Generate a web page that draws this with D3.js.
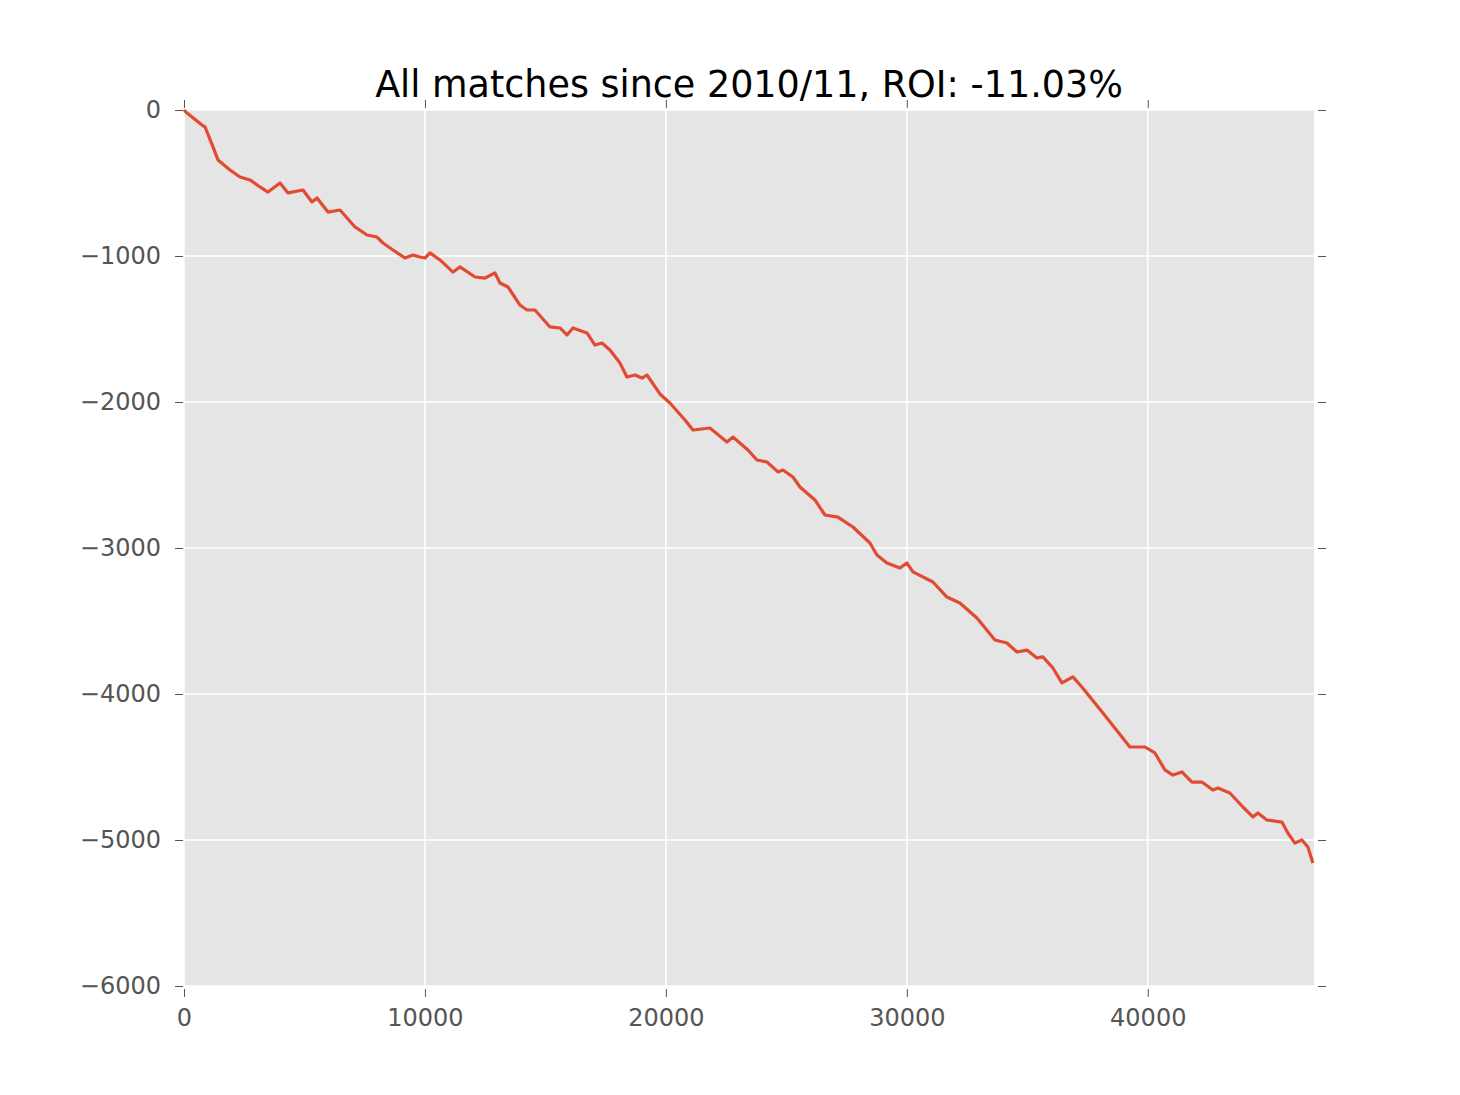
<!DOCTYPE html>
<html>
<head>
<meta charset="utf-8">
<script src="https://cdn.jsdelivr.net/npm/d3@7"></script>
<style>
  html, body { margin: 0; padding: 0; background: #ffffff; }
  svg { display: block; }
</style>
</head>
<body>
<svg id="chart" width="1460" height="1095"></svg>
<script>
// ---- data ----
const titleText = "All matches since 2010/11, ROI: -11.03%";
const xTicks = [0, 10000, 20000, 30000, 40000];
const yTicks = [0, -1000, -2000, -3000, -4000, -5000, -6000];
const xDomain = [0, 46900];
const yDomain = [-6000, 0];
const matchIndex = [0,125,747,872,1204,1411,1909,2324,2739,3154,3486,3984,4316,4939,5312,5520,5976,6474,7097,7595,8010,8259,8674,9172,9504,9794,10002,10209,10624,11164,11454,12077,12492,12907,13114,13446,13944,14235,14567,15189,15604,15895,16144,16725,17057,17347,17679,18094,18385,18717,19007,19215,19754,20169,20792,21124,21829,22535,22784,23406,23780,24195,24651,24859,25274,25564,26187,26602,27141,27764,28469,28760,29175,29714,30005,30254,31084,31665,32204,32910,33657,34155,34570,34985,35400,35649,36064,36437,36894,37267,38139,39259,39882,40297,40712,41044,41417,41832,42247,42704,42911,43409,43949,44364,44571,44945,45567,45816,46107,46397,46646,46854];
const profit = [0,-21,-103,-116,-253,-342,-411,-459,-479,-527,-562,-500,-568,-548,-630,-603,-699,-685,-801,-856,-870,-911,-959,-1014,-993,-1007,-1014,-979,-1027,-1110,-1075,-1144,-1151,-1116,-1185,-1212,-1336,-1370,-1370,-1486,-1493,-1541,-1493,-1527,-1610,-1596,-1644,-1733,-1829,-1815,-1836,-1815,-1945,-2007,-2123,-2192,-2178,-2274,-2240,-2329,-2397,-2411,-2479,-2466,-2514,-2582,-2671,-2774,-2788,-2856,-2966,-3048,-3103,-3137,-3103,-3164,-3233,-3336,-3377,-3479,-3630,-3651,-3712,-3699,-3753,-3746,-3822,-3924,-3883,-3952,-4130,-4363,-4363,-4404,-4520,-4555,-4534,-4603,-4603,-4658,-4644,-4678,-4774,-4842,-4815,-4863,-4877,-4952,-5021,-5000,-5048,-5158];

// ---- layout ----
const L = 184, R = 1314, T = 110, B = 986;
const svg = d3.select("#chart");
const font = "'DejaVu Sans', sans-serif";

const x = d3.scaleLinear().domain(xDomain).range([L, R]);
const y = d3.scaleLinear().domain(yDomain).range([B, T]);

// background
svg.append("rect").attr("x", L).attr("y", T).attr("width", R - L).attr("height", B - T).attr("fill", "#e5e5e5");

// grid
const grid = svg.append("g");
grid.selectAll("line.gx").data(xTicks).join("line")
  .attr("x1", d => x(d)).attr("x2", d => x(d)).attr("y1", T).attr("y2", B)
  .attr("stroke", "#ffffff").attr("stroke-width", 1.5);
grid.selectAll("line.gy").data(yTicks).join("line")
  .attr("x1", L).attr("x2", R).attr("y1", d => y(d)).attr("y2", d => y(d))
  .attr("stroke", "#ffffff").attr("stroke-width", 1.5);

// axes with d3
function styleAxis(g) {
  g.select(".domain").remove();
  g.selectAll(".tick line").attr("stroke", "#555555").attr("stroke-width", 1);
  g.selectAll(".tick text").attr("fill", "#555555").style("font-family", font).style("font-size", "24px");
}
const fmt = d => (d < 0 ? "\u2212" + Math.abs(d) : String(d));

svg.append("g").attr("transform", `translate(${L - 1},0)`)
  .call(d3.axisLeft(y).tickValues(yTicks).tickSize(8).tickPadding(14).tickFormat(fmt))
  .call(styleAxis)
  .selectAll(".tick text").attr("dy", "0.3em");

svg.append("g").attr("transform", `translate(${R + 4},0)`)
  .call(d3.axisRight(y).tickValues(yTicks).tickSize(8).tickFormat(""))
  .call(styleAxis);

svg.append("g").attr("transform", `translate(0,${B + 3})`)
  .call(d3.axisBottom(x).tickValues(xTicks).tickSize(8).tickPadding(12).tickFormat(d => String(d)))
  .call(styleAxis);

svg.append("g").attr("transform", `translate(0,${T - 2})`)
  .call(d3.axisTop(x).tickValues(xTicks).tickSize(8).tickFormat(""))
  .call(styleAxis);

// line
const pts = matchIndex.map((v, i) => [v, profit[i]]);
svg.append("path").datum(pts)
  .attr("fill", "none").attr("stroke", "#e24a33").attr("stroke-width", 3.2)
  .attr("stroke-linejoin", "round")
  .attr("d", d3.line().x(d => x(d[0])).y(d => y(d[1])));

// title
svg.append("text").attr("x", (L + R) / 2).attr("y", 97)
  .attr("text-anchor", "middle").attr("fill", "#000000")
  .style("font-family", font).style("font-size", "36.5px")
  .text(titleText);
</script>
</body>
</html>
